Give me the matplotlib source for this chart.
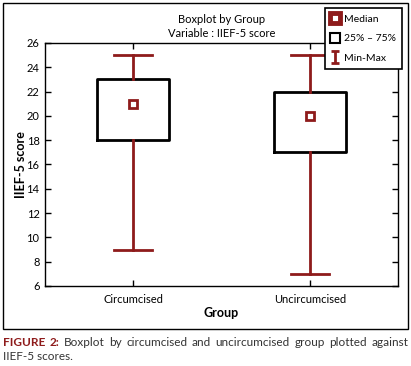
import numpy as np
import matplotlib.pyplot as plt
from matplotlib.lines import Line2D
from matplotlib.path import Path
from matplotlib.patches import Rectangle

plt.rcParams['font.family'] = ['Lato', 'DejaVu Sans']

groups = ['Circumcised', 'Uncircumcised']
mins = [9, 7]
q1s = [18, 17]
medians = [21, 20]
q3s = [23, 22]
maxs = [25, 25]
yticks = [6, 8, 10, 12, 14, 16, 18, 20, 22, 24, 26]

red = '#8e1b1b'

fig = plt.figure(figsize=(4.11, 3.66), dpi=100)
ax = fig.add_axes([45/411, 1-286/366, 353/411, 243/366])

stats = []
for i in range(len(groups)):
    stats.append(dict(med=medians[i], q1=q1s[i], q3=q3s[i],
                      whislo=mins[i], whishi=maxs[i], fliers=[], label=groups[i]))
pos = np.arange(1, len(groups)+1)
ax.bxp(stats, positions=pos, widths=0.41, showfliers=False,
       boxprops=dict(color='black', linewidth=2),
       whiskerprops=dict(color=red, linewidth=2),
       capprops=dict(color=red, linewidth=2),
       medianprops=dict(linestyle='none'), capwidths=0.215,
       patch_artist=False, zorder=2)
ax.plot(pos, medians, linestyle='none', marker='s', markersize=6,
        markerfacecolor='white', markeredgecolor=red, markeredgewidth=2, zorder=3)

ax.set_xlim(0.5, 2.5)
ax.set_ylim(6, 26)
ax.set_yticks(yticks)
ax.set_xticks(pos)
ax.set_xticklabels(groups)
ax.tick_params(direction='in', top=True, right=True, labelsize=8, length=4, width=1, pad=6)
ax.tick_params(axis='y', pad=4)
for s in ax.spines.values():
    s.set_linewidth(1)

ax.set_title('Boxplot by Group\nVariable : IIEF-5 score', fontsize=8, linespacing=1.4, pad=4)
ax.set_xlabel('Group', fontsize=9, fontweight='bold', labelpad=1)
ax.set_ylabel('IIEF-5 score', fontsize=9, fontweight='bold')
ax.yaxis.set_label_coords(-0.05, 0.5)

# legend
imark = Path([(-0.7, -1), (0.7, -1), (0, -1), (0, 1), (-0.7, 1), (0.7, 1)],
             [Path.MOVETO, Path.LINETO, Path.MOVETO, Path.LINETO, Path.MOVETO, Path.LINETO])
handles = [
    Line2D([], [], linestyle='none', marker='s', markersize=7, markerfacecolor='white',
           markeredgecolor=red, markeredgewidth=3.5),
    Line2D([], [], linestyle='none', marker='s', markersize=7, markerfacecolor='white',
           markeredgecolor='black', markeredgewidth=1.5),
    Line2D([], [], linestyle='none', marker=imark, markersize=8,
           markeredgecolor=red, markeredgewidth=2),
]
leg = fig.legend(handles, ['Median', '25% \u2013 75%', 'Min-Max'],
                 loc='upper right', bbox_to_anchor=(402/411, 1-8/366),
                 fontsize=7.5, fancybox=False, framealpha=1, edgecolor='black',
                 handlelength=0.7, handletextpad=0.5, borderpad=0.6,
                 labelspacing=1.0, borderaxespad=0)
leg.get_frame().set_linewidth(1.2)

# outer border
fig.patches.append(Rectangle((3/411, 1-329/366), 405/411, 326/366, transform=fig.transFigure,
                             fill=False, edgecolor='black', linewidth=1))

# caption, first line justified across the border width
cap_words = ['FIGURE', '2:', 'Boxplot', 'by', 'circumcised', 'and', 'uncircumcised',
             'group', 'plotted', 'against']
renderer = fig.canvas.get_renderer()
texts = []
for k, w in enumerate(cap_words):
    bold = k < 2
    t = fig.text(0, 1-343/366, w, fontsize=8.5, va='center',
                 fontweight='bold' if bold else 'normal',
                 color=red if bold else '#333333')
    texts.append(t)
widths = [t.get_window_extent(renderer).width for t in texts]
gap = (405 - sum(widths)) / (len(texts) - 1)
x = 3
for t, wd in zip(texts, widths):
    t.set_x(x/411)
    x += wd + gap
fig.text(3/411, 1-357/366, 'IIEF-5 scores.', fontsize=8.5, color='#333333', va='center')

fig.savefig('out.png', dpi=100)
